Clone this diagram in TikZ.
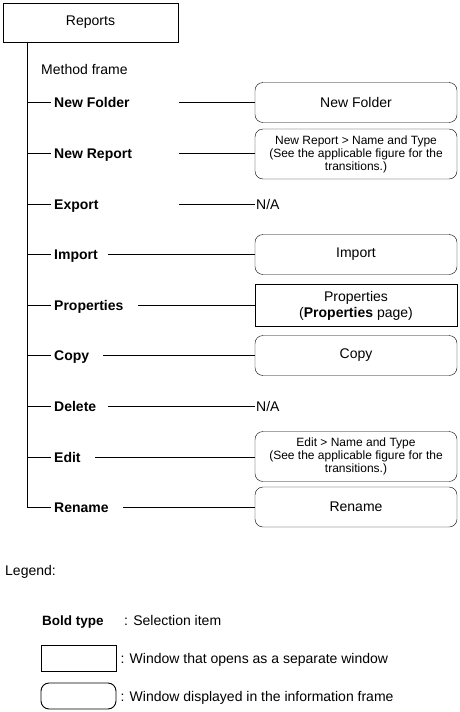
\documentclass[tikz,border=0pt]{standalone}
\usepackage{fontspec}
\setmainfont{Liberation Sans}
\usepackage{tikz}
\usetikzlibrary{positioning}

\begin{document}
\begin{tikzpicture}[x=1pt, y=-1pt,
      janela/.style={draw=black, minimum width=202pt, minimum height=40pt,
        align=center, font=\fontsize{14}{16}\selectfont, inner sep=1pt},
      quadro/.style={janela, rounded corners=8pt},
      miuda/.style={font=\fontsize{12}{13}\selectfont},
      item/.style={font=\fontsize{14}{16}\selectfont\bfseries, anchor=west, inner sep=3pt,
        text height=10pt, text depth=0pt},
      texto/.style={font=\fontsize{14}{16}\selectfont, anchor=west, inner sep=1pt,
        text height=10pt, text depth=0pt},
      linha/.style={draw=black, line width=0.9pt}]
    \useasboundingbox (0,0) rectangle (460,712);
    % menu and branches
    \node[draw=black, line width=0.9pt, minimum width=175pt, minimum height=39pt,
      font=\fontsize{14}{16}\selectfont] (rep) at (90.5,22.5) {Reports};
    \node[texto] (mf) at (40,69) {Method frame};
    \foreach \n/\y/\t/\s in {nf/102/New Folder/179, nr/153/New Report/179,
        ex/204/Export/179, im/254/Import/108, pr/305/Properties/138,
        cp/355/Copy/103, dl/406/Delete/108, ed/457/Edit/95, rn/507/Rename/123} {
      \node[item] (\n) at (51,\y) {\t};
      \coordinate (s-\n) at (\s,\y);
    }
    % windows
    \node[quadro] (w-nf) at (356,102.5) {New Folder};
    \node[quadro, miuda, minimum height=50pt] (w-nr) at (356,154)
      {New Report > Name and Type\\(See the applicable figure for the\\transitions.)};
    \node[texto] (w-ex) at (255,204) {N/A};
    \node[quadro] (w-im) at (356,254.5) {Import};
    \node[janela, minimum height=42pt] (w-pr) at (356,305.5)
      {Properties\\(\textbf{Properties} page)};
    \node[quadro] (w-cp) at (356,355.5) {Copy};
    \node[texto] (w-dl) at (255,406) {N/A};
    \node[quadro, miuda, minimum height=50pt] (w-ed) at (356,456.5)
      {Edit > Name and Type\\(See the applicable figure for the\\transitions.)};
    \node[quadro] (w-rn) at (356,507) {Rename};
    % connectors
    \draw[linha] ([xshift=25pt]rep.south west) coordinate (tronco) |- (rn.west);
    \foreach \n in {nf,nr,ex,im,pr,cp,dl,ed}
      \draw[linha] (tronco |- \n.west) -- (\n.west);
    \foreach \n in {nf,nr,ex,im,pr,cp,dl,ed,rn}
      \draw[linha] (s-\n) -- (s-\n -| w-\n.west);
    % legend
    \node[texto] (leg) at (4,570) {Legend:};
    \node[item, inner sep=1pt, font=\fontsize{13.5}{16}\selectfont\bfseries] (bt) at (41,620) {Bold type};
    \node[texto] (bt-t) at (123,620) {: Selection item};
    \node[draw=black, line width=0.9pt, minimum width=75pt, minimum height=26pt, inner sep=0pt]
      (lg-r) at (78.5,658.5) {};
    \node[texto, right=3pt of lg-r] (lg-rt) {: Window that opens as a separate window};
    \node[draw=black, line width=0.9pt, rounded corners=8pt, minimum width=75pt,
      minimum height=26pt, inner sep=0pt] (lg-q) at (78.5,696) {};
    \node[texto, right=3pt of lg-q] (lg-qt) {: Window displayed in the information frame};
  \end{tikzpicture}
\end{document}
